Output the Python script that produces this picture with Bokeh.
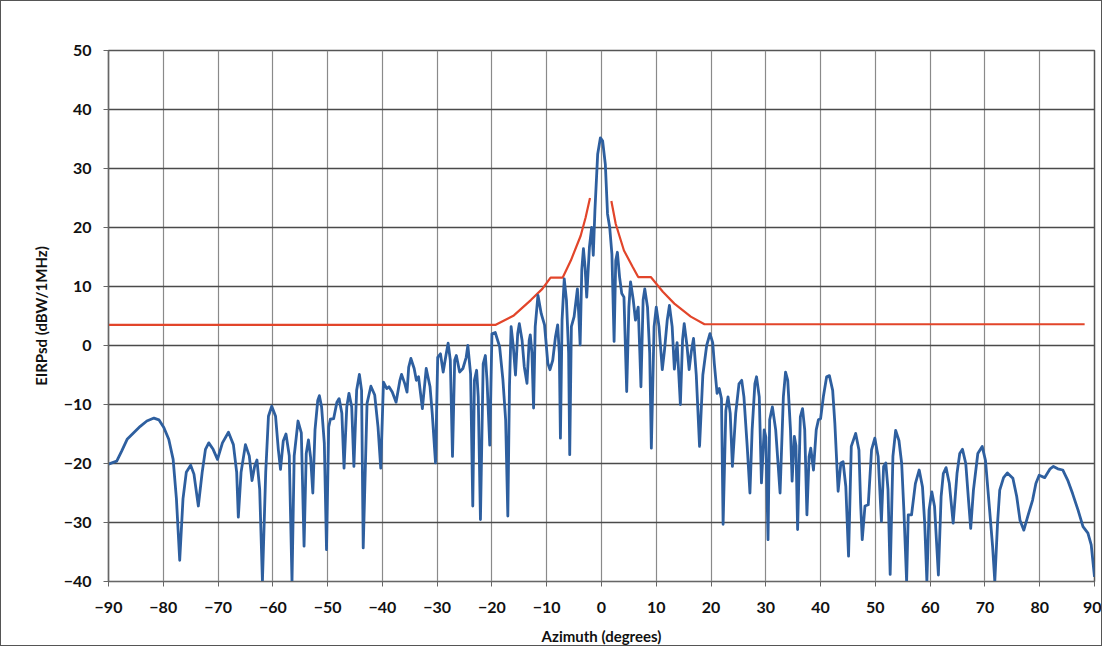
from bokeh.plotting import figure
from bokeh.models import FixedTicker, Range1d
from bokeh.embed import file_html
from bokeh.resources import INLINE

# Antenna pattern (blue)
pattern_az = [
    -90.0, -88.5, -87.6, -86.6, -85.4, -84.2, -83.0, -81.7, -80.8, -79.9,
    -79.0, -78.2, -77.6, -77.0, -76.4, -75.8, -75.0, -74.4, -73.6, -72.9,
    -72.3, -71.7, -70.9, -70.1, -69.2, -68.1, -67.2, -66.6, -66.3, -65.8,
    -65.0, -64.3, -63.8, -63.3, -62.9, -62.4, -61.9, -61.3, -60.8, -60.2,
    -59.5, -59.0, -58.6, -58.1, -57.6, -57.0, -56.5, -56.1, -55.4, -54.8,
    -54.3, -53.9, -53.5, -53.1, -52.7, -52.3, -51.8, -51.5, -51.1, -50.6,
    -50.2, -49.8, -49.5, -48.9, -48.3, -47.9, -47.4, -47.0, -46.5, -46.1,
    -45.6, -45.2, -44.7, -44.2, -43.8, -43.5, -42.8, -42.1, -41.4, -40.8,
    -40.3, -39.8, -39.2, -38.8, -38.2, -37.5, -36.8, -36.5, -35.9, -35.5,
    -35.2, -34.8, -34.2, -33.8, -33.4, -32.7, -32.0, -31.3, -30.9, -30.3,
    -29.9, -29.4, -28.9, -28.4, -28.0, -27.6, -27.2, -26.8, -26.5, -25.9,
    -25.3, -24.7, -24.4, -23.9, -23.5, -23.2, -22.8, -22.5, -22.1, -21.6,
    -21.2, -20.9, -20.4, -20.0, -19.4, -18.6, -18.0, -17.5, -17.1, -16.8,
    -16.5, -16.1, -15.7, -15.3, -15.0, -14.5, -14.1, -13.6, -13.2, -13.0,
    -12.7, -12.4, -12.1, -11.6, -11.0, -10.4, -9.8, -9.4, -8.9, -8.4,
    -8.0, -7.7, -7.5, -7.2, -6.8, -6.4, -6.0, -5.8, -5.5, -5.0,
    -4.4, -4.1, -3.9, -3.6, -3.3, -3.0, -2.7, -2.2, -1.8, -1.5,
    -1.2, -0.7, -0.2, 0.2, 0.7, 1.1, 1.5, 1.9, 2.3, 2.6,
    2.9, 3.3, 3.7, 4.1, 4.6, 5.0, 5.3, 5.8, 6.2, 6.7,
    7.0, 7.2, 7.6, 7.9, 8.4, 8.8, 9.1, 9.6, 10.0, 10.5,
    11.1, 11.5, 12.0, 12.4, 12.9, 13.3, 13.8, 14.4, 14.8, 15.1,
    15.6, 16.0, 16.4, 16.8, 17.3, 17.9, 18.5, 19.2, 19.8, 20.3,
    20.6, 21.1, 21.5, 21.9, 22.2, 22.7, 23.1, 23.5, 23.9, 24.5,
    25.1, 25.6, 26.0, 26.6, 27.1, 27.5, 28.0, 28.3, 28.8, 29.2,
    29.7, 30.0, 30.4, 30.7, 31.2, 31.8, 32.6, 33.2, 33.6, 34.0,
    34.5, 34.8, 35.2, 35.5, 35.8, 36.3, 36.7, 37.1, 37.5, 37.9,
    38.2, 38.7, 39.2, 39.6, 40.0, 40.5, 41.1, 41.6, 42.2, 42.6,
    43.2, 43.7, 44.1, 44.6, 45.1, 45.6, 46.4, 47.0, 47.3, 47.6,
    48.1, 48.7, 49.3, 49.9, 50.5, 51.1, 51.5, 51.9, 52.3, 52.7,
    53.2, 53.7, 54.3, 54.8, 55.2, 55.7, 56.0, 56.6, 57.3, 58.0,
    58.6, 59.0, 59.4, 59.8, 60.3, 60.8, 61.5, 62.0, 62.4, 62.9,
    63.5, 64.2, 64.9, 65.4, 65.9, 66.5, 67.0, 67.4, 67.9, 68.7,
    69.5, 70.1, 70.8, 71.4, 71.8, 72.3, 72.7, 73.4, 74.1, 75.1,
    75.8, 76.4, 77.1, 77.8, 78.7, 79.3, 79.9, 80.9, 81.9, 82.5,
    83.3, 84.2, 85.1, 86.0, 87.0, 87.9, 88.8, 89.4, 90.0,
]
pattern_db = [
    -20.1, -19.6, -17.9, -15.9, -14.8, -13.7, -12.8, -12.3, -12.6, -13.9,
    -15.9, -19.3, -26.0, -36.4, -26.0, -21.5, -20.3, -21.8, -27.2, -21.5,
    -17.6, -16.5, -17.6, -19.3, -16.5, -14.7, -16.8, -21.5, -29.1, -21.5,
    -16.8, -18.7, -22.9, -20.4, -19.4, -24.4, -40.0, -21.5, -12.0, -10.3,
    -12.0, -17.6, -21.0, -16.2, -15.0, -18.7, -40.0, -18.7, -12.8, -14.8,
    -34.0, -18.3, -16.0, -19.0, -25.0, -14.3, -9.3, -8.5, -10.4, -16.6,
    -34.6, -13.8, -12.5, -12.4, -9.6, -9.0, -11.5, -20.8, -10.4, -8.1,
    -10.4, -20.5, -7.6, -4.9, -7.6, -34.3, -9.8, -6.9, -8.4, -13.8,
    -20.8, -6.2, -7.3, -7.0, -7.9, -9.6, -5.9, -4.9, -6.5, -7.9,
    -3.7, -2.2, -3.9, -5.9, -5.3, -10.7, -3.9, -7.0, -11.5, -19.9,
    -2.0, -1.4, -4.5, -1.7, 0.4, -2.5, -18.8, -2.5, -1.7, -4.5,
    -3.9, -2.0, 0.0, -4.8, -27.2, -5.9, -4.2, -8.7, -29.5, -3.1,
    -1.7, -5.9, -16.9, 2.0, 2.2, -0.2, -5.8, -12.6, -28.9, -7.0,
    3.2, -0.2, -5.0, 2.0, 3.7, 0.9, -3.6, -6.4, 0.9, 1.8,
    -1.3, -10.6, 3.2, 8.5, 5.4, 3.5, -3.0, -4.1, -2.5, 1.5,
    3.5, -1.3, -15.7, 4.3, 11.3, 7.7, -1.3, -18.5, 3.2, 4.9,
    9.6, 4.3, 0.1, 12.8, 16.4, 13.3, 8.2, 16.7, 20.0, 15.3,
    22.9, 32.4, 35.2, 34.7, 30.7, 22.3, 20.0, 15.5, 0.7, 14.4,
    15.8, 11.6, 8.8, 8.2, -7.8, 6.5, 10.8, 7.7, 4.3, 6.5,
    -1.3, -7.0, 7.7, 9.6, 6.5, -1.3, -17.4, 3.2, 6.5, 3.2,
    -4.1, -0.8, 4.3, 6.8, 3.2, -4.0, 0.5, -10.0, 1.0, 3.7,
    0.0, -4.1, -1.0, 1.2, -5.0, -17.1, -5.0, 0.0, 2.0, 0.5,
    -3.1, -8.1, -7.3, -9.0, -30.3, -11.0, -8.7, -11.5, -20.5, -11.5,
    -6.5, -5.9, -8.7, -17.1, -25.0, -14.3, -6.5, -5.3, -8.7, -23.3,
    -14.3, -15.5, -32.9, -12.6, -10.4, -14.3, -25.0, -8.7, -4.5, -5.9,
    -14.3, -23.0, -15.4, -17.0, -31.2, -12.1, -10.7, -14.3, -28.7, -18.8,
    -17.4, -21.1, -14.3, -12.6, -12.4, -8.7, -5.3, -5.1, -7.6, -13.2,
    -24.7, -19.9, -19.7, -23.9, -35.7, -17.1, -14.9, -17.7, -26.7, -32.9,
    -27.2, -27.0, -17.7, -15.7, -18.8, -29.8, -20.5, -19.9, -24.4, -38.8,
    -18.8, -14.4, -16.1, -20.0, -27.9, -40.0, -28.7, -28.7, -23.4, -21.1,
    -24.0, -30.1, -40.0, -27.9, -24.8, -27.3, -38.9, -25.6, -21.7, -20.7,
    -23.4, -30.1, -21.7, -18.3, -17.6, -20.0, -26.2, -31.0, -24.5, -18.3,
    -17.1, -19.5, -27.3, -34.1, -40.0, -30.1, -24.5, -22.4, -21.6, -22.5,
    -25.6, -29.6, -31.3, -29.0, -26.2, -23.4, -22.0, -22.4, -20.9, -20.5,
    -20.9, -21.1, -22.8, -25.1, -27.9, -30.7, -31.8, -33.8, -39.2,
]
assert len(pattern_az) == len(pattern_db)

# Limit mask (red), two branches separated by a gap around boresight
mask_az = [-90, -19.3, -16.0, -12.9, -10.8, -9.3, -7.1, -5.6, -3.8, -2.9, -2.1,
           float("nan"),
           1.8, 2.6, 4.1, 5.7, 6.7, 9.0, 11.2, 13.3, 16.3, 18.8, 88.2]
mask_db = [3.5, 3.5, 5.1, 7.7, 9.6, 11.5, 11.5, 14.4, 18.6, 21.7, 25.0,
           float("nan"),
           24.5, 20.6, 16.1, 13.3, 11.6, 11.6, 9.1, 7.1, 4.9, 3.6, 3.6]

x_ticks = list(range(-90, 91, 10))
y_ticks = list(range(-40, 51, 10))

FONT = "Lato"

p = figure(width=1102, height=646, output_backend="svg", toolbar_location=None,
           x_range=Range1d(-90, 90), y_range=Range1d(-40, 50),
           min_border_left=107, min_border_right=9, min_border_top=49, min_border_bottom=65)
p.styles = {"border": "1px solid #555555"}
p.background_fill_color = "white"
p.border_fill_color = "white"
p.outline_line_color = "#555555"
p.outline_line_width = 1.5

p.xaxis.ticker = FixedTicker(ticks=x_ticks)
p.yaxis.ticker = FixedTicker(ticks=y_ticks)
p.xgrid.ticker = FixedTicker(ticks=x_ticks)
p.ygrid.ticker = FixedTicker(ticks=y_ticks)
p.xgrid.grid_line_color = "#8a8a8a"
p.xgrid.grid_line_width = 1.2
p.ygrid.grid_line_color = "#4a4a4a"
p.ygrid.grid_line_width = 1.6

for ax in (p.xaxis[0], p.yaxis[0]):
    ax.axis_line_color = "#666666"
    ax.axis_line_width = 1.2
    ax.major_tick_line_color = "#666666"
    ax.major_tick_out = 5
    ax.major_tick_in = 0
    ax.minor_tick_line_color = None
    ax.major_label_text_font = FONT
    ax.major_label_text_font_style = "bold"
    ax.major_label_text_font_size = "16px"
    ax.major_label_text_color = "#111111"
    ax.axis_label_text_font = FONT
    ax.axis_label_text_font_style = "bold"
    ax.axis_label_text_font_size = "15px"
    ax.axis_label_text_color = "#111111"

p.xaxis.major_label_standoff = 15
p.yaxis.major_label_standoff = 12
p.xaxis.axis_label = "Azimuth (degrees)"
p.yaxis.axis_label = "EIRPsd (dBW/1MHz)"
p.xaxis.axis_label_standoff = 11
p.yaxis.axis_label_standoff = 11

p.line(mask_az, mask_db, line_color="#e2452a", line_width=2.2)
p.line(pattern_az, pattern_db, line_color="#2e5f9f", line_width=2.8, line_join="round")

open("out.html", "w").write(file_html(p, INLINE))
